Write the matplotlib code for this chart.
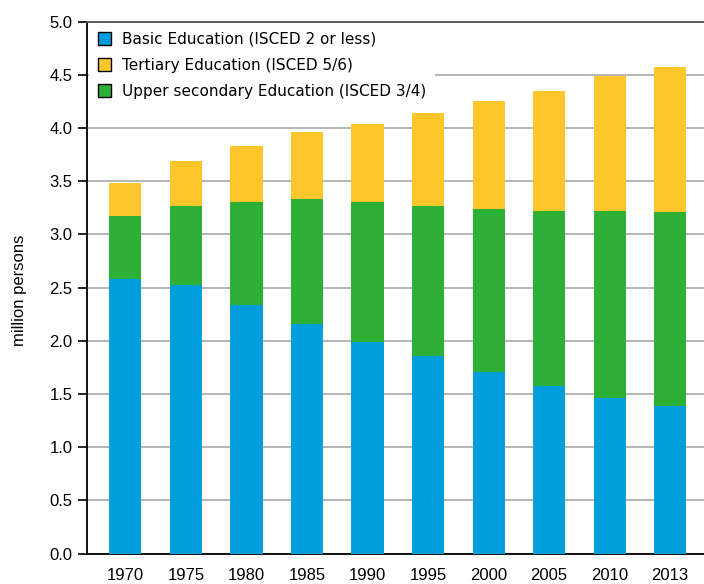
import numpy as np
import matplotlib
matplotlib.use("Agg")
import matplotlib.pyplot as plt

# values in million persons
years = ["1970", "1975", "1980", "1985", "1990", "1995", "2000", "2005", "2010", "2013"]
basic = [2.58, 2.52, 2.34, 2.16, 1.99, 1.86, 1.71, 1.58, 1.46, 1.39]
upper_sec = [0.59, 0.75, 0.96, 1.17, 1.31, 1.41, 1.53, 1.64, 1.76, 1.82]
tertiary = [0.31, 0.42, 0.53, 0.63, 0.74, 0.87, 1.01, 1.13, 1.27, 1.36]

c_basic = "#009edb"
c_upper = "#2eb037"
c_tert = "#ffc72c"

plt.rcParams['font.family'] = ['Liberation Sans', 'DejaVu Sans']

fig = plt.figure(figsize=(7.04, 5.84), dpi=100)
ax = fig.add_axes([0.124, 0.052, 0.876, 0.911])

x = np.arange(len(years))
w = 0.53
basic = np.array(basic)
upper_sec = np.array(upper_sec)
tertiary = np.array(tertiary)

b1 = ax.bar(x, basic, w, color=c_basic, zorder=3)
b2 = ax.bar(x, upper_sec, w, bottom=basic, color=c_upper, zorder=3)
b3 = ax.bar(x, tertiary, w, bottom=basic + upper_sec, color=c_tert, zorder=3)

ax.set_xlim(-0.63, 9.56)
ax.set_ylim(0, 5.0)
ax.set_yticks(np.arange(0, 5.01, 0.5))
ax.set_yticklabels(["%.1f" % v for v in np.arange(0, 5.01, 0.5)])
ax.set_xticks(x)
ax.set_xticklabels(years)

ax.yaxis.grid(True, color="#b0b0b0", linewidth=1.3, zorder=0)
ax.set_axisbelow(True)

ax.spines['right'].set_visible(False)
ax.spines['top'].set_color("#555555")
ax.spines['top'].set_linewidth(1.3)
ax.spines['left'].set_linewidth(1.3)
ax.spines['bottom'].set_linewidth(1.3)

ax.tick_params(axis='y', length=6.5, width=1.2, pad=4, labelsize=12)
ax.tick_params(axis='x', length=0, pad=10, labelsize=12)

fig.text(20 / 704, 1 - 290 / 584, "million persons", rotation=90,
         ha='center', va='center', fontsize=12)

leg = ax.legend([b1, b3, b2],
                ["Basic Education (ISCED 2 or less)",
                 "Tertiary Education (ISCED 5/6)",
                 "Upper secondary Education (ISCED 3/4)"],
                loc='upper left', frameon=True, fancybox=False,
                prop={'family': 'DejaVu Sans', 'size': 11},
                framealpha=1, edgecolor='none', facecolor='white',
                handlelength=0.85, handleheight=0.85, handletextpad=0.75,
                labelspacing=0.72, borderpad=0.55, borderaxespad=0.12)
for h in leg.legend_handles:
    h.set_edgecolor('black')
    h.set_linewidth(1.0)

fig.savefig("out.png", dpi=100)
